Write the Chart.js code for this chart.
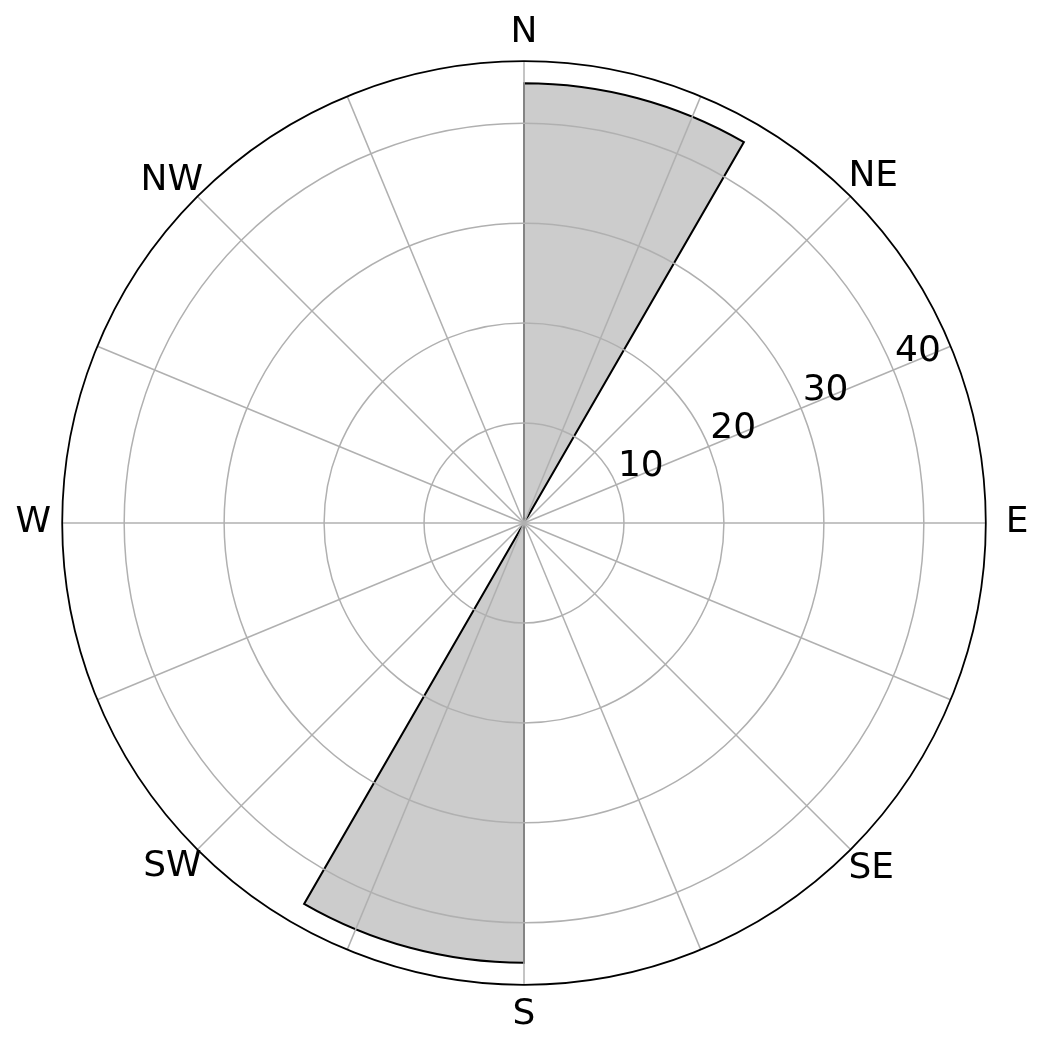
<!DOCTYPE html>
<html>
<head>
<meta charset="utf-8">
<script src="https://cdn.jsdelivr.net/npm/chart.js@4/dist/chart.umd.min.js"></script>
<style>
  html, body { margin: 0; padding: 0; background: #fff; }
</style>
</head>
<body>
<canvas id="rose" width="1042" height="1048"></canvas>
<script>
// 16 compass directions -> one radial grid line each (every 22.5 deg)
const directions = ['N', 'NNE', 'NE', 'ENE', 'E', 'ESE', 'SE', 'SSE',
                    'S', 'SSW', 'SW', 'WSW', 'W', 'WNW', 'NW', 'NNW'];
// only these get a label
const shownDirections = ['N', 'NE', 'E', 'SE', 'S', 'SW', 'W', 'NW'];

// 12 bins of 30 deg, clockwise from north
const binLabels = ['0-30', '30-60', '60-90', '90-120', '120-150', '150-180',
                   '180-210', '210-240', '240-270', '270-300', '300-330', '330-360'];
const binCounts = [44, 0, 0, 0, 0, 0, 44, 0, 0, 0, 0, 0];

const radialTicks = [10, 20, 30, 40];
const radialMax = 46.2;

// padding of each compass label from the outer circle
const labelPad = { N: 7, NE: -3, E: 20, SE: -3, S: 8, SW: -6, W: 11, NW: -8 };

const outerRing = {
    id: 'outerRing',
    afterDraw(chart) {
        const r = chart.scales.r;
        const ctx = chart.ctx;
        ctx.save();
        ctx.beginPath();
        ctx.arc(r.xCenter, r.yCenter, r.drawingArea, 0, Math.PI * 2);
        ctx.strokeStyle = '#000';
        ctx.lineWidth = 1.8;
        ctx.stroke();

        // value labels along the ENE spoke (index 3)
        ctx.fillStyle = '#000';
        ctx.font = '36px "DejaVu Sans"';
        ctx.textAlign = 'center';
        ctx.textBaseline = 'middle';
        radialTicks.forEach(v => {
            const p = r.getPointPositionForValue(3, v);
            ctx.fillText(String(v), p.x + 24.5, p.y - 18);
        });
        ctx.restore();
    }
};

new Chart(document.getElementById('rose'), {
    type: 'polarArea',
    data: {
        labels: directions,
        datasets: [{
            label: 'count',
            data: binCounts,
            backgroundColor: '#cccccc',
            borderColor: '#000000',
            borderWidth: 2,
            borderJoinStyle: 'miter'
        }]
    },
    plugins: [outerRing],
    options: {
        responsive: false,
        animation: false,
        layout: { padding: { left: 10, right: 6, top: 11, bottom: 11 } },
        plugins: {
            legend: { display: false },
            tooltip: { enabled: false }
        },
        scales: {
            r: {
                min: 0,
                max: radialMax,
                startAngle: 0,
                ticks: { display: false, stepSize: 10, includeBounds: false },
                grid: { z: 1, circular: true, color: '#b0b0b0', lineWidth: 1.5 },
                angleLines: { display: true, color: '#b0b0b0', lineWidth: 1.5 },
                pointLabels: {
                    display: true,
                    centerPointLabels: false,
                    color: '#000',
                    font: { family: 'DejaVu Sans', size: 36 },
                    padding: ctx => labelPad[directions[ctx.index]] ?? 0,
                    callback: label => shownDirections.includes(label) ? label : ''
                }
            }
        }
    }
});
</script>
</body>
</html>
